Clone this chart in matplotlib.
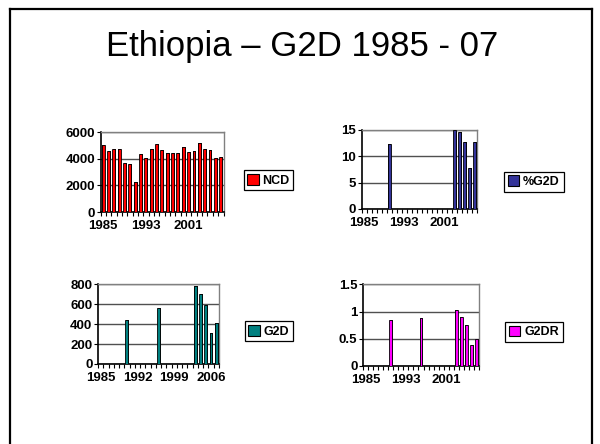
import numpy as np
import matplotlib.pyplot as plt
from matplotlib.lines import Line2D
from matplotlib.patches import Patch

plt.rcParams['font.family'] = ['Liberation Sans', 'DejaVu Sans']

# data
years = list(range(1985, 2008))
nan = np.nan

ncd = [5060, 4600, 4740, 4700, 3680, 3600, 2270, 4320, 4070, 4740, 5110, 4690,
       4420, 4420, 4420, 4890, 4500, 4600, 5180, 4740, 4670, 4050, 4150]

pct_g2d = [nan, nan, nan, nan, nan, 12.35, nan, nan, nan, nan, nan, nan,
           nan, nan, nan, nan, nan, nan, 14.95, 14.7, 12.65, 7.7, 12.65]

g2d = [nan, nan, nan, nan, nan, 440, nan, nan, nan, nan, nan, 558,
       nan, nan, nan, nan, nan, nan, 785, 697, 592, 311, 412]

g2dr = [nan, nan, nan, nan, nan, 0.855, nan, nan, nan, nan, nan, 0.89,
        nan, nan, nan, nan, nan, nan, 1.03, 0.90, 0.75, 0.39, 0.49]


def small_chart(rect, vals, color, label, yticks, ytlabels, xstep, legend_xy):
    ax = fig.add_axes(rect)
    x = np.arange(len(years))
    v = np.array(vals, dtype=float)
    # dark side of the bars (Excel 3D look)
    ax.bar(x + 0.12, v, width=0.6, color='#101010', edgecolor='none', zorder=2)
    ax.bar(x - 0.02, v, width=0.55, color=color, edgecolor='black',
           linewidth=0.6, zorder=3)

    ax.set_xlim(-0.5, len(years) - 0.5)
    ax.set_ylim(yticks[0], yticks[-1])
    ax.set_yticks(yticks)
    ax.set_yticklabels(ytlabels)
    ax.yaxis.grid(True, color='#505050', linewidth=1)
    ax.set_axisbelow(True)

    lab_pos = list(range(0, len(years), xstep))
    ax.set_xticks(lab_pos)
    ax.set_xticklabels([str(years[i]) for i in lab_pos])
    ax.set_xticks(np.arange(len(years) + 1) - 0.5, minor=True)
    ax.tick_params(axis='x', which='major', length=0, pad=6)
    ax.tick_params(axis='x', which='minor', length=3, width=0.8, direction='out')
    ax.tick_params(axis='y', length=3, width=0.8, pad=1)
    for t in ax.get_xticklabels() + ax.get_yticklabels():
        t.set_fontsize(9.5)
        t.set_fontweight('bold')

    for s in ['top', 'right']:
        ax.spines[s].set_color('#808080')
        ax.spines[s].set_linewidth(1)
    for s in ['left', 'bottom']:
        ax.spines[s].set_color('black')
        ax.spines[s].set_linewidth(1.2)

    h = Patch(facecolor=color, edgecolor='black', linewidth=0.8)
    leg = fig.legend([h], [label], loc='center', bbox_to_anchor=legend_xy,
                     fancybox=False, framealpha=1, edgecolor='black',
                     prop={'weight': 'bold', 'size': 9},
                     handlelength=0.9, handleheight=0.9, handletextpad=0.3,
                     borderpad=0.3, borderaxespad=0)
    leg.get_frame().set_linewidth(0.9)
    return ax


fig = plt.figure(figsize=(6, 4.44), dpi=100)

# slide outline
fig.add_artist(Line2D([10 / 600, 10 / 600], [0, 1 - 9 / 444], color='black', lw=1.6))
fig.add_artist(Line2D([10 / 600, 592 / 600], [1 - 9 / 444, 1 - 9 / 444], color='black', lw=1.6))
fig.add_artist(Line2D([592 / 600, 592 / 600], [0, 1 - 9 / 444], color='black', lw=1.6))

fig.text(0.503, 1 - 46 / 444, 'Ethiopia \u2013 G2D 1985 - 07', ha='center', va='center',
         fontsize=25)

small_chart([0.1675, 0.5225, 0.2050, 0.1800], ncd, '#FF0000', 'NCD',
            [0, 2000, 4000, 6000], ['0', '2000', '4000', '6000'], 8, (0.4475, 0.5935))
small_chart([0.6030, 0.5293, 0.1920, 0.1780], pct_g2d, '#333399', '%G2D',
            [0, 5, 10, 15], ['0', '5', '10', '15'], 8, (0.890, 0.591))
small_chart([0.1633, 0.1802, 0.2017, 0.1800], g2d, '#008080', 'G2D',
            [0, 200, 400, 600, 800], ['0', '200', '400', '600', '800'], 7, (0.448, 0.2534))
small_chart([0.6050, 0.1757, 0.1933, 0.1836], g2dr, '#FF00FF', 'G2DR',
            [0, 0.5, 1, 1.5], ['0', '0.5', '1', '1.5'], 8, (0.890, 0.252))

fig.savefig('out.png', dpi=100)
